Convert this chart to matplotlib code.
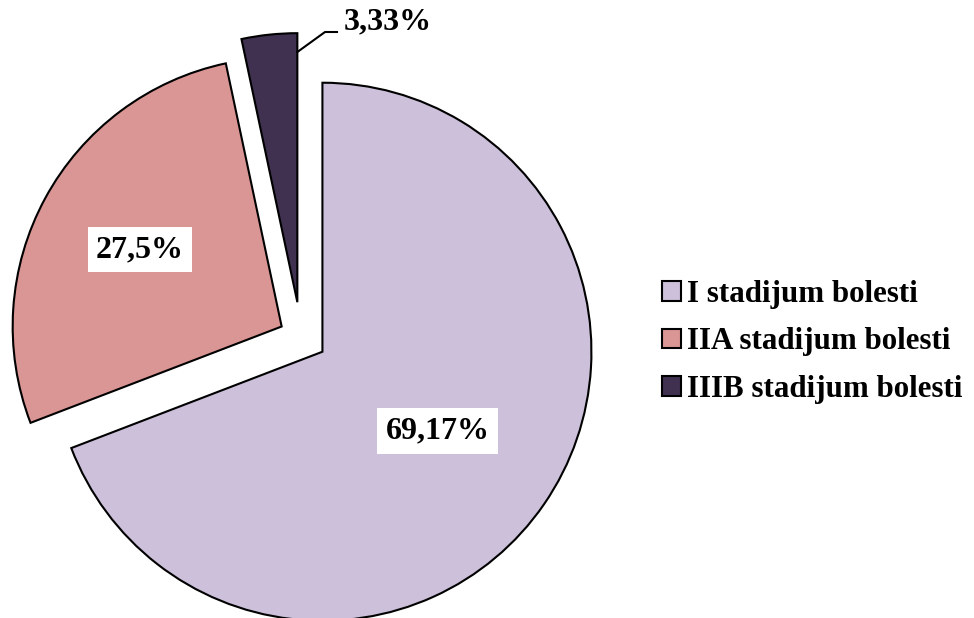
import matplotlib.pyplot as plt
import numpy as np

labels = ['I stadijum bolesti', 'IIA stadijum bolesti', 'IIIB stadijum bolesti']
values = [69.17, 27.5, 3.33]
colors = ['#CCC0DA', '#DA9694', '#403151']

W, H = 974, 618
fig = plt.figure(figsize=(W / 100, H / 100), dpi=100)
ax = fig.add_axes([0, 0, 1, 1])

font = dict(family='Liberation Serif', weight='bold', size=23)

# pie in pixel units, every slice pulled out a bit
R = 269
wedges, _ = ax.pie(values, colors=colors, startangle=90, counterclock=False,
                   center=(301, H - 337), radius=R, explode=[26, 22, 35],
                   wedgeprops=dict(edgecolor='black', linewidth=1.5),
                   frame=True)
ax.set_xlim(0, W)
ax.set_ylim(0, H)
ax.set_aspect('equal')
ax.axis('off')

def pct(v):
    return '{:g}%'.format(v).replace('.', ',')

# labels inside the two big slices
for w, v, d in zip(wedges[:2], values[:2], [0.52, 0.60]):
    mid = np.deg2rad((w.theta1 + w.theta2) / 2)
    cx, cy = w.center
    ax.text(cx + d * R * np.cos(mid), cy + d * R * np.sin(mid), pct(v),
            ha='center', va='center', **font,
            bbox=dict(facecolor='white', edgecolor='none', pad=6))

# small slice: label outside with a leader line
w = wedges[2]
cx, cy = w.center
ex, ey = cx, cy + 0.93 * R
ax.plot([ex, 325, 337], [ey, H - 32, H - 32], color='black', lw=1.5)
ax.text(344, H - 22, pct(values[2]), ha='left', va='center', **font)

leg_font = dict(font, size=22.3)
fig.legend(wedges, labels, loc='center left', bbox_to_anchor=(0.664, 0.447),
           frameon=False, prop=leg_font, handlelength=0.6, handleheight=0.6,
           handletextpad=0.2, labelspacing=0.6, borderpad=0)

fig.savefig('out.png', dpi=100)
